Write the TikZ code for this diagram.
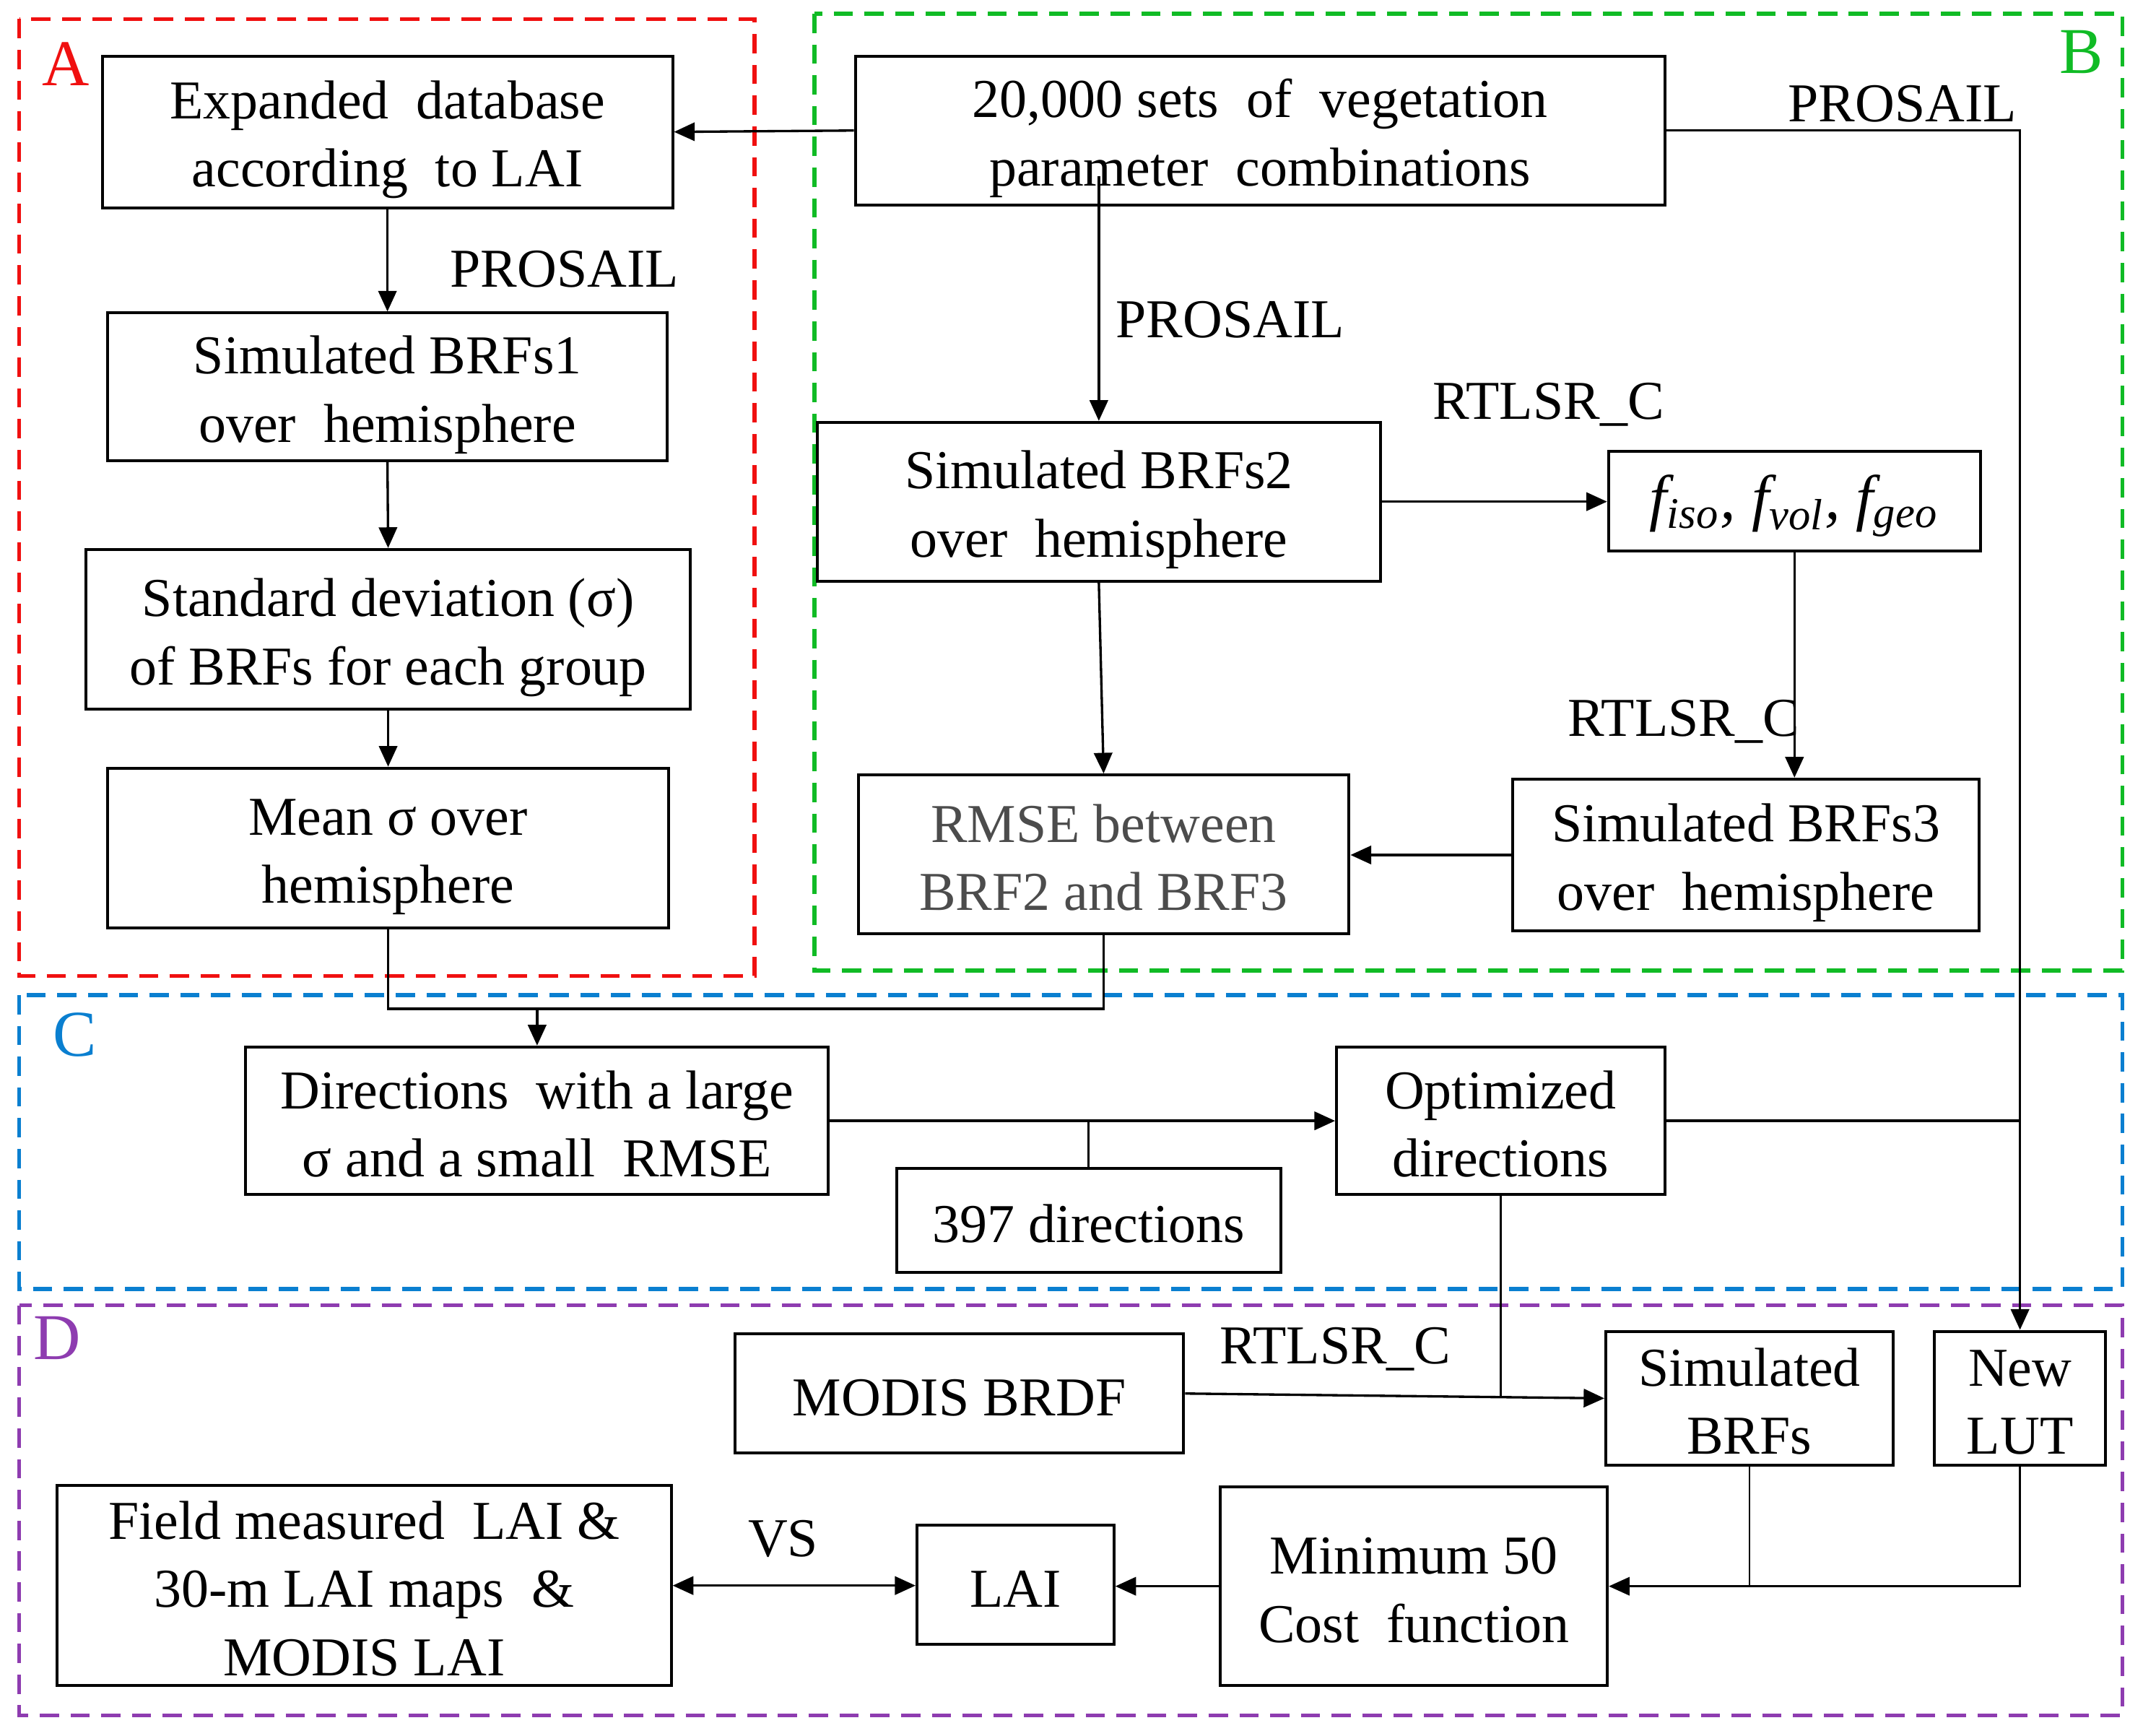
\documentclass[tikz,border=0pt]{standalone}
\usepackage{fontspec}
\setmainfont{Liberation Serif}
\usetikzlibrary{arrows.meta,calc}
\definecolor{cA}{HTML}{F01010}
\definecolor{cB}{HTML}{10BB25}
\definecolor{cC}{HTML}{0A7FD0}
\definecolor{cD}{HTML}{8E3CB0}
\newcommand\myfs{\fontsize{11.4}{14.2}\selectfont}
\newcommand\labfs{\fontsize{13.6}{16}\selectfont}
\newcommand\hiup{\rule{0pt}{11.2pt}}
\newcommand\loup{\rule{0pt}{9.2pt}}
\begin{document}
\begin{tikzpicture}[x=0.01cm,y=-0.01cm,
  box/.style={draw, line width=0.6pt, align=center, inner sep=0pt, font=\myfs},
  lab/.style={inner sep=0pt, font=\myfs},
  reg/.style={line width=0.85pt, dash pattern=on 4pt off 2.4pt},
  rlab/.style={inner sep=0pt, font=\labfs},
  con/.style={line width=0.5pt},
  thinc/.style={line width=0.35pt},
  arr/.style={con, -{Triangle[length=4.3pt,width=3.8pt]}},
  darr/.style={con, {Triangle[length=4.3pt,width=3.8pt]}-{Triangle[length=4.3pt,width=3.8pt]}}]
\useasboundingbox (0,0) rectangle (1568,1270);

% regions
\draw[reg, cA] (14,14) rectangle (552,714);
\draw[reg, cB] (596,10) rectangle (1553,710);
\draw[reg, cC] (14,728) rectangle (1553,943);
\draw[reg, cD] (14,955) rectangle (1553,1255);
\node[rlab, cA] (lA) at (48,47) {A};
\node[rlab, cB] (lB) at (1523,38) {B};
\node[rlab, cC] (lC) at (55,757) {C};
\node[rlab, cD] (lD) at (42,979) {D};

% A
\node[box, minimum width=4.17cm, minimum height=1.11cm] (exp) at (283.5,96.5) {\hiup Expanded\ \ database\\according\ \ to LAI};
\node[box, minimum width=4.09cm, minimum height=1.08cm] (s1) at (283.5,283) {\hiup Simulated BRFs1\\over\ \ hemisphere};
\node[box, minimum width=4.42cm, minimum height=1.17cm] (sd) at (284,460.5) {\hiup Standard deviation (σ)\\of BRFs for each group};
\node[box, minimum width=4.10cm, minimum height=1.17cm] (mean) at (284,620.5) {\hiup Mean σ over\\hemisphere};
\node[lab] (pA) at (413,197) {PROSAIL};

% B
\node[box, minimum width=5.92cm, minimum height=1.09cm] (n20) at (922,95.5) {\hiup 20,000 sets\ \ of\ \ vegetation\\parameter\ \ combinations};
\node[lab] (pB1) at (1392,76) {PROSAIL};
\node[lab] (pB2) at (900,234) {PROSAIL};
\node[box, minimum width=4.12cm, minimum height=1.16cm] (s2) at (804,367) {\hiup Simulated BRFs2\\over\ \ hemisphere};
\node[lab] (r1) at (1133,296) {RTLSR\_C};
\node[box, minimum width=2.72cm, minimum height=0.73cm] (fk) at (1313,366.5) {\hiup\fontsize{13}{15}\selectfont\itshape f\textsubscript{iso}, f\textsubscript{vol}, f\textsubscript{geo}};
\node[lab] (r2) at (1232,528) {RTLSR\_C};
\node[box, minimum width=3.41cm, minimum height=1.11cm] (s3) at (1277.5,625.5) {\hiup Simulated BRFs3\\over\ \ hemisphere};
\node[box, minimum width=3.59cm, minimum height=1.16cm, text=black!70] (rmse) at (807.5,625) {\loup RMSE between\\BRF2 and BRF3};

% C
\node[box, minimum width=4.26cm, minimum height=1.08cm] (dir) at (393,820) {\loup Directions\ \ with a large\\σ and a small\ \ RMSE};
\node[box, minimum width=2.81cm, minimum height=0.76cm] (d397) at (796.5,893) {\loup 397 directions};
\node[box, minimum width=2.40cm, minimum height=1.08cm] (opt) at (1098,820) {\loup Optimized\\directions};
\coordinate (cj) at (393,738);

% D
\node[box, minimum width=3.28cm, minimum height=0.87cm] (modis) at (702,1019.5) {\loup MODIS BRDF};
\node[lab] (r3) at (977,987) {RTLSR\_C};
\node[box, minimum width=2.10cm, minimum height=0.98cm] (simb) at (1280,1023) {\loup Simulated\\BRFs};
\node[box, minimum width=1.25cm, minimum height=0.98cm] (lut) at (1478,1023) {\loup New\\LUT};
\node[box, minimum width=2.83cm, minimum height=1.45cm] (minf) at (1034.5,1160.5) {\loup Minimum 50\\Cost\ \ function};
\node[box, minimum width=1.44cm, minimum height=0.87cm] (lai) at (743,1159.5) {\loup LAI};
\node[box, minimum width=4.49cm, minimum height=1.46cm] (field) at (266.5,1160) {\loup Field measured\ \ LAI \&\\30-m LAI maps\ \ \&\\MODIS LAI};
\node[lab] (vs) at (573,1126) {VS};

% connectors
\draw[arr] (n20.west) -- (exp.east);
\draw[arr] (exp.south) -- (s1.north);
\draw[arr] (s1.south) -- (sd.north);
\draw[arr] (sd.south) -- (mean.north);
\draw[arr] ($(n20.south -| s2.north)+(0,-22)$) -- (s2.north);
\draw[arr] (s2.east) -- (fk.west |- s2.east);
\draw[arr] (fk.south) -- (fk.south |- s3.north);
\draw[arr] (s3.west) -- (rmse.east |- s3.west);
\draw[arr] (s2.south) -- (rmse.north);
\draw[arr] (n20.east) -| (lut.north);
\draw[con] (mean.south) |- (cj) -| (rmse.south);
\draw[arr] (cj) -- (dir.north);
\draw[arr] (dir.east) -- (opt.west);
\draw[con] (dir.east -| d397.north) -- (d397.north);
\draw[con] (opt.east) -- (opt.east -| lut.north);
\draw[arr] (modis.east) -- (simb.west);
\draw[thinc] (opt.south) -- ($(opt.south |- simb.west)+(0,-1)$);
\draw[thinc] (simb.south) -- (simb.south |- minf.east);
\draw[thinc, -{Triangle[length=4.3pt,width=3.8pt]}] (lut.south) |- (minf.east);
\draw[arr] (minf.west) -- (lai.east |- minf.west);
\draw[darr] (lai.west |- field.east) -- (field.east);
\end{tikzpicture}
\end{document}
